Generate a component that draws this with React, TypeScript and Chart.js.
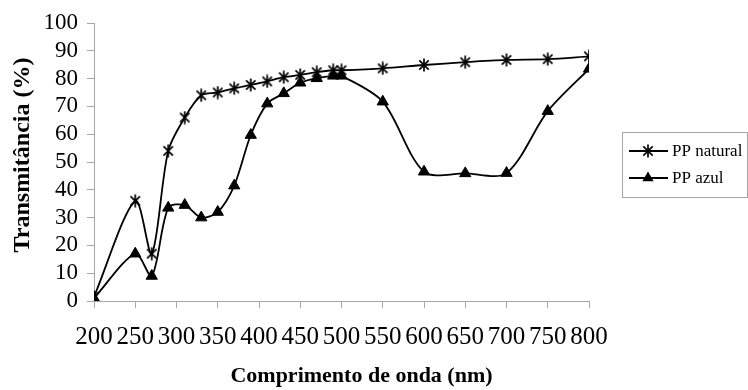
import React, { useEffect, useRef } from "react";
import { Chart, registerables } from "chart.js";

Chart.register(...registerables);

// ---- data ----
const wavelengths = [200, 250, 270, 290, 310, 330, 350, 370, 390, 410, 430, 450, 470, 490, 500, 550, 600, 650, 700, 750, 800];
const ppNatural = [1.5, 36, 17, 54, 66, 74, 75, 76.5, 77.7, 79, 80.5, 81.3, 82.3, 83, 83, 83.7, 84.9, 85.9, 86.7, 87, 88];
const ppAzul = [1, 17, 9, 33.5, 34.5, 30, 32, 41.5, 59.7, 71, 74.7, 78.5, 80.1, 81, 81, 71.7, 46.5, 45.9, 46, 68.3, 83.5];
const xTickValues = [200, 250, 300, 350, 400, 450, 500, 550, 600, 650, 700, 750, 800];
const yTickValues = [0, 10, 20, 30, 40, 50, 60, 70, 80, 90, 100];
const seriesNames = ["PP natural", "PP azul"];
const xTitle = "Comprimento de onda (nm)";
const yTitle = "Transmitância (%)";

const SERIF = "'Liberation Serif', 'Times New Roman', Times, serif";
const AXIS_GREY = "#a6a6a6";

function makeAsterisk(size: number, lw: number): HTMLCanvasElement {
  const c = document.createElement("canvas");
  c.width = size;
  c.height = size;
  const g = c.getContext("2d")!;
  g.strokeStyle = "#000";
  g.lineWidth = lw;
  const m = size / 2;
  const r = size / 2 - 0.5;
  const d = r * 0.72;
  g.beginPath();
  g.moveTo(m, m - r);
  g.lineTo(m, m + r);
  g.moveTo(m - d, m - d);
  g.lineTo(m + d, m + d);
  g.moveTo(m + d, m - d);
  g.lineTo(m - d, m + d);
  g.stroke();
  return c;
}

export default function App() {
  const ref = useRef<HTMLCanvasElement | null>(null);

  useEffect(() => {
    if (!ref.current) return;
    const star = makeAsterisk(14, 1.7);

    const overlay = {
      id: "overlay",
      afterDraw(chart: any) {
        const ctx = chart.ctx as CanvasRenderingContext2D;
        const area = chart.chartArea;
        ctx.save();
        // axis titles
        ctx.fillStyle = "#000";
        ctx.font = `bold 22px ${SERIF}`;
        ctx.textAlign = "center";
        ctx.textBaseline = "middle";
        ctx.fillText(xTitle, (area.left + area.right) / 2 + 20, 376);
        ctx.save();
        ctx.translate(23, 155);
        ctx.rotate(-Math.PI / 2);
        ctx.font = `bold 24px ${SERIF}`;
        ctx.fillText(yTitle, 0, 0);
        ctx.restore();

        // legend box
        const bx = 622.5, by = 132.5, bw = 125, bh = 65;
        ctx.strokeStyle = AXIS_GREY;
        ctx.lineWidth = 1;
        ctx.strokeRect(bx, by, bw, bh);
        const rows = [151, 178];
        seriesNames.forEach((name, i) => {
          const y = rows[i];
          ctx.strokeStyle = "#000";
          ctx.lineWidth = 2;
          ctx.beginPath();
          ctx.moveTo(629, y);
          ctx.lineTo(668, y);
          ctx.stroke();
          if (i === 0) {
            ctx.drawImage(star, 648 - star.width / 2, y - star.height / 2);
          } else {
            const r = 6.5;
            ctx.fillStyle = "#000";
            ctx.beginPath();
            ctx.moveTo(648, y - r);
            ctx.lineTo(648 + r * 0.866, y + r * 0.5);
            ctx.lineTo(648 - r * 0.866, y + r * 0.5);
            ctx.closePath();
            ctx.fill();
          }
          ctx.fillStyle = "#000";
          ctx.font = `17px ${SERIF}`;
          ctx.textAlign = "left";
          ctx.textBaseline = "middle";
          ctx.fillText(name, 672, y + 1);
        });
        ctx.restore();
      },
    };

    const chart = new Chart(ref.current, {
      type: "scatter",
      data: {
        datasets: [
          {
            label: seriesNames[0],
            data: wavelengths.map((w, i) => ({ x: w, y: ppNatural[i] })),
            showLine: true,
            borderColor: "#000",
            borderWidth: 1.8,
            tension: 0.3,
            pointStyle: star as any,
            pointRadius: 7,
            backgroundColor: "#000",
          },
          {
            label: seriesNames[1],
            data: wavelengths.map((w, i) => ({ x: w, y: ppAzul[i] })),
            showLine: true,
            borderColor: "#000",
            borderWidth: 1.8,
            tension: 0.3,
            pointStyle: "triangle",
            pointRadius: 6.5,
            pointBorderWidth: 1,
            pointBackgroundColor: "#000",
            pointBorderColor: "#000",
            backgroundColor: "#000",
          },
        ],
      },
      options: {
        responsive: false,
        animation: false,
        events: [],
        layout: { padding: { left: 0, right: 159, top: 23, bottom: 0 } },
        plugins: {
          legend: { display: false },
          tooltip: { enabled: false },
        },
        scales: {
          x: {
            type: "linear",
            min: 200,
            max: 800,
            afterFit(scale: any) {
              scale.height = 89;
            },
            afterBuildTicks(scale: any) {
              scale.ticks = xTickValues.map((v) => ({ value: v }));
            },
            ticks: {
              autoSkip: false,
              maxRotation: 0,
              color: "#000",
              padding: 14,
              font: { family: SERIF, size: 25 },
            },
            grid: {
              display: true,
              drawOnChartArea: false,
              drawTicks: true,
              tickLength: 7,
              color: AXIS_GREY,
            },
            border: { display: true, color: AXIS_GREY, width: 1 },
            title: { display: false },
          },
          y: {
            type: "linear",
            min: 0,
            max: 100,
            afterFit(scale: any) {
              scale.width = 94;
            },
            afterBuildTicks(scale: any) {
              scale.ticks = yTickValues.map((v) => ({ value: v }));
            },
            ticks: {
              autoSkip: false,
              color: "#000",
              padding: 9,
              font: { family: SERIF, size: 23 },
            },
            grid: {
              display: true,
              drawOnChartArea: false,
              drawTicks: true,
              tickLength: 7,
              color: AXIS_GREY,
            },
            border: { display: true, color: AXIS_GREY, width: 1 },
            title: { display: false },
          },
        },
      },
      plugins: [overlay],
    });
    return () => chart.destroy();
  }, []);

  return (
    <div style={{ position: "fixed", left: 0, top: 0, width: 748, height: 390, background: "#fff" }}>
      <canvas ref={ref} width={748} height={390} />
    </div>
  );
}
